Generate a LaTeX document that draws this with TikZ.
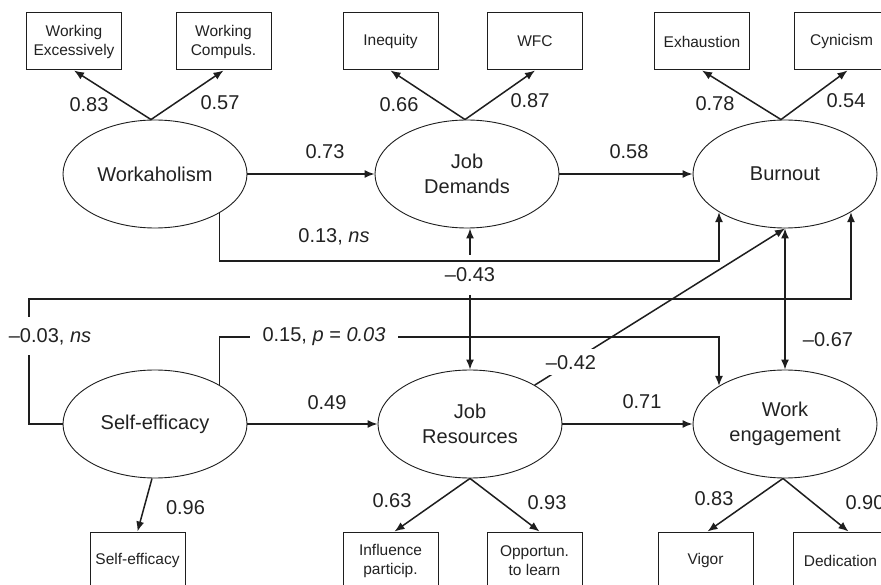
\documentclass[tikz,border=0pt]{standalone}
\usepackage{fontspec}
\setmainfont{Liberation Sans}
\usetikzlibrary{shapes.geometric,arrows.meta}
\definecolor{linec}{HTML}{1E1E1E}
\definecolor{textc}{HTML}{222222}
\tikzset{
  lat/.style={ellipse, draw=linec, line width=0.9pt, minimum width=184pt, minimum height=108pt,
    inner sep=0pt, align=center, text=textc, font=\fontsize{20}{25}\selectfont},
  obs/.style={rectangle, draw=linec, line width=1pt, minimum width=95pt, minimum height=57pt,
    inner sep=0pt, align=center, text=textc, font=\fontsize{15.5}{19}\selectfont},
  ln/.style={draw=linec, line width=1.5pt},
  arr/.style={ln, -{Latex[length=10pt,width=8pt]}},
  dbl/.style={ln, {Latex[length=10pt,width=8pt]}-{Latex[length=10pt,width=8pt]}},
  lbl/.style={inner sep=0pt, text=textc, font=\fontsize{20}{24}\selectfont},
}
\begin{document}
\begin{tikzpicture}[x=1pt,y=-1pt]
\useasboundingbox (0,0) rectangle (881,585);
\clip (0,0) rectangle (881,585);
\fill[white] (0,0) rectangle (881,585);

% latent variables
\node[lat] (wk) at (155,174) {Workaholism};
\node[lat] (jd) at (467,174) {Job\\Demands};
\node[lat] (bo) at (785,174) {Burnout};
\node[lat] (se) at (155,424) {Self-efficacy};
\node[lat] (jr) at (470,424) {Job\\Resources};
\node[lat] (we) at (785,424) {Work\\engagement};

% indicators
\node[obs] (b1) at (74,41.5) {Working\\Excessively};
\node[obs] (b2) at (223.5,41.5) {Working\\Compuls.};
\node[obs] (b3) at (390.5,41.5) {Inequity};
\node[obs] (b4) at (535,41.5) {WFC};
\node[obs] (b5) at (702,41.5) {Exhaustion};
\node[obs] (b6) at (841.5,41.5) {Cynicism};
\node[obs] (b7) at (137.5,560.5) {Self-efficacy};
\node[obs] (b8) at (390.5,560.5) {Influence\\particip.};
\node[obs] (b9) at (534.5,560.5) {Opportun.\\to learn};
\node[obs] (b10) at (705.5,560.5) {Vigor};
\node[obs] (b11) at (840.5,560.5) {Dedication};

% loadings
\draw[arr] ([xshift=-4pt]wk.north) -- (b1.south);
\draw[arr] ([xshift=-4pt]wk.north) -- (b2.south);
\draw[arr] ([xshift=-2pt]jd.north) -- (b3.south);
\draw[arr] ([xshift=-2pt]jd.north) -- (b4.south);
\draw[arr] ([xshift=-4pt]bo.north) -- (b5.south);
\draw[arr] ([xshift=-4pt]bo.north) -- ([xshift=6pt]b6.south);
\draw[arr] ([xshift=-3pt]se.south) -- (b7.north);
\draw[arr] (jr.south) -- ([xshift=4pt]b8.north);
\draw[arr] (jr.south) -- ([xshift=5pt]b9.north);
\draw[arr] ([xshift=-2pt]we.south) -- ([xshift=2pt]b10.north);
\draw[arr] ([xshift=-2pt]we.south) -- ([xshift=8pt]b11.north);

\node[lbl] at (89,105) {0.83};
\node[lbl] at (220,103) {0.57};
\node[lbl] at (399,105) {0.66};
\node[lbl] at (530,101) {0.87};
\node[lbl] at (715,104) {0.78};
\node[lbl] at (846,101) {0.54};
\node[lbl] at (185.5,508) {0.96};
\node[lbl] at (392,501) {0.63};
\node[lbl] at (547,503) {0.93};
\node[lbl] at (714,499) {0.83};
\node[lbl] at (865,503) {0.90};

% helper coordinates
\coordinate (h261) at (0,261);
\coordinate (h299) at (0,299);
\coordinate (h337) at (0,337);
\coordinate (xl) at (29,0);
\coordinate (g1) at (29,355);
\coordinate (g2) at (29,317);
\coordinate (g3) at (250,337);
\coordinate (g4) at (398,337);
\coordinate (a43) at (470,255);
\coordinate (c43) at (470,295);

% structural paths
\draw[arr] (wk.east) -- (jd.west);
\node[lbl] at (325,152) {0.73};
\draw[arr] (jd.east) -- (bo.west);
\node[lbl] at (629,152) {0.58};
\draw[arr] (se.east) -- (se.east -| jr.west);
\node[lbl] at (327,403) {0.49};
\draw[arr] (jr.east) -- (jr.east -| we.west);
\node[lbl] at (642,402) {0.71};

% workaholism -> burnout
\draw[arr] (wk.-31) -- (wk.-31 |- h261) -- (bo.210 |- h261) -- (bo.210);
\node[lbl] at (334,237) {0.13, \textit{ns}};

% job demands <-> job resources
\draw[arr] (a43) -- (a43 |- jd.south);
\draw[arr] (c43) -- (c43 |- jr.north);
\node[lbl] at (470,275) {–0.43};

% self-efficacy -> burnout
\draw[ln] (se.west) -- (se.west -| xl) -- (g1);
\draw[arr] (g2) -- (xl |- h299) -- (bo.-30 |- h299) -- (bo.-30);
\node[lbl] at (50,337) {–0.03, \textit{ns}};

% self-efficacy -> work engagement
\draw[ln] (se.31) -- (se.31 |- h337) -- (g3);
\draw[arr] (g4) -- (we.150 |- h337) -- (we.150);
\node[lbl] at (324,337) {0.15, \textit{p} = \textit{0.03}};

% job resources -> burnout
\draw[arr] (jr.31.5) -- (bo.south)
  node[pos=0.145, lbl, fill=white, inner xsep=4pt, inner ysep=6pt] {–0.42};

% burnout <-> work engagement
\draw[dbl] (bo.south) -- (we.north);
\node[lbl] at (828,340) {–0.67};
\end{tikzpicture}
\end{document}
